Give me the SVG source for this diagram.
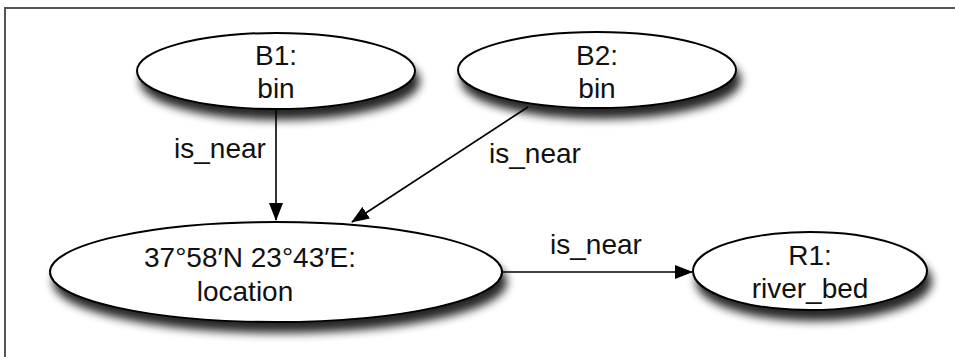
<svg xmlns="http://www.w3.org/2000/svg" width="955" height="357" viewBox="0 0 955 357">
<style>
.node{fill:#fff;stroke:#000;stroke-width:2;filter:url(#sh)}
.t{font-family:"Liberation Sans",Arial,sans-serif;font-size:28px;fill:#111;text-anchor:middle}
.e{stroke:#000;stroke-width:1.6;fill:none;marker-end:url(#ah)}
</style>
<defs>
<filter id="sh" x="-20%" y="-30%" width="140%" height="180%">
<feGaussianBlur in="SourceAlpha" stdDeviation="5"/>
<feOffset dx="4" dy="10" result="b"/>
<feComponentTransfer><feFuncA type="linear" slope="0.85"/></feComponentTransfer>
<feMerge><feMergeNode/><feMergeNode in="SourceGraphic"/></feMerge>
</filter>
<marker id="ah" markerWidth="18" markerHeight="14" refX="17" refY="7" orient="auto" markerUnits="userSpaceOnUse">
<path d="M0,0 L18,7 L0,14 Z" fill="#000"/>
</marker>
</defs>
<rect width="955" height="357" fill="#fff"/>
<path d="M5,357 V8 H955" fill="none" stroke="#555" stroke-width="2"/>
<g id="edges">
<line class="e" x1="276" y1="110" x2="276" y2="220"/>
<line class="e" x1="528" y1="107" x2="352" y2="222"/>
<line class="e" x1="503" y1="272" x2="692" y2="272"/>
<text class="t" x="220" y="158">is_near</text>
<text class="t" x="535" y="163">is_near</text>
<text class="t" x="596" y="254">is_near</text>
</g>
<g id="B1">
<ellipse class="node" cx="276" cy="71" rx="139" ry="38"/>
<text class="t" x="276" y="65">B1:</text>
<text class="t" x="276" y="98">bin</text>
</g>
<g id="B2">
<ellipse class="node" cx="597" cy="70" rx="139" ry="38"/>
<text class="t" x="597" y="65">B2:</text>
<text class="t" x="597" y="98">bin</text>
</g>
<g id="loc">
<ellipse class="node" cx="276" cy="272" rx="226" ry="50"/>
<text class="t" x="250" y="267">37°58′N 23°43′E:</text>
<text class="t" x="245" y="301">location</text>
</g>
<g id="R1">
<ellipse class="node" cx="810" cy="271" rx="117" ry="39"/>
<text class="t" x="810" y="265">R1:</text>
<text class="t" x="810" y="298">river_bed</text>
</g>
</svg>
